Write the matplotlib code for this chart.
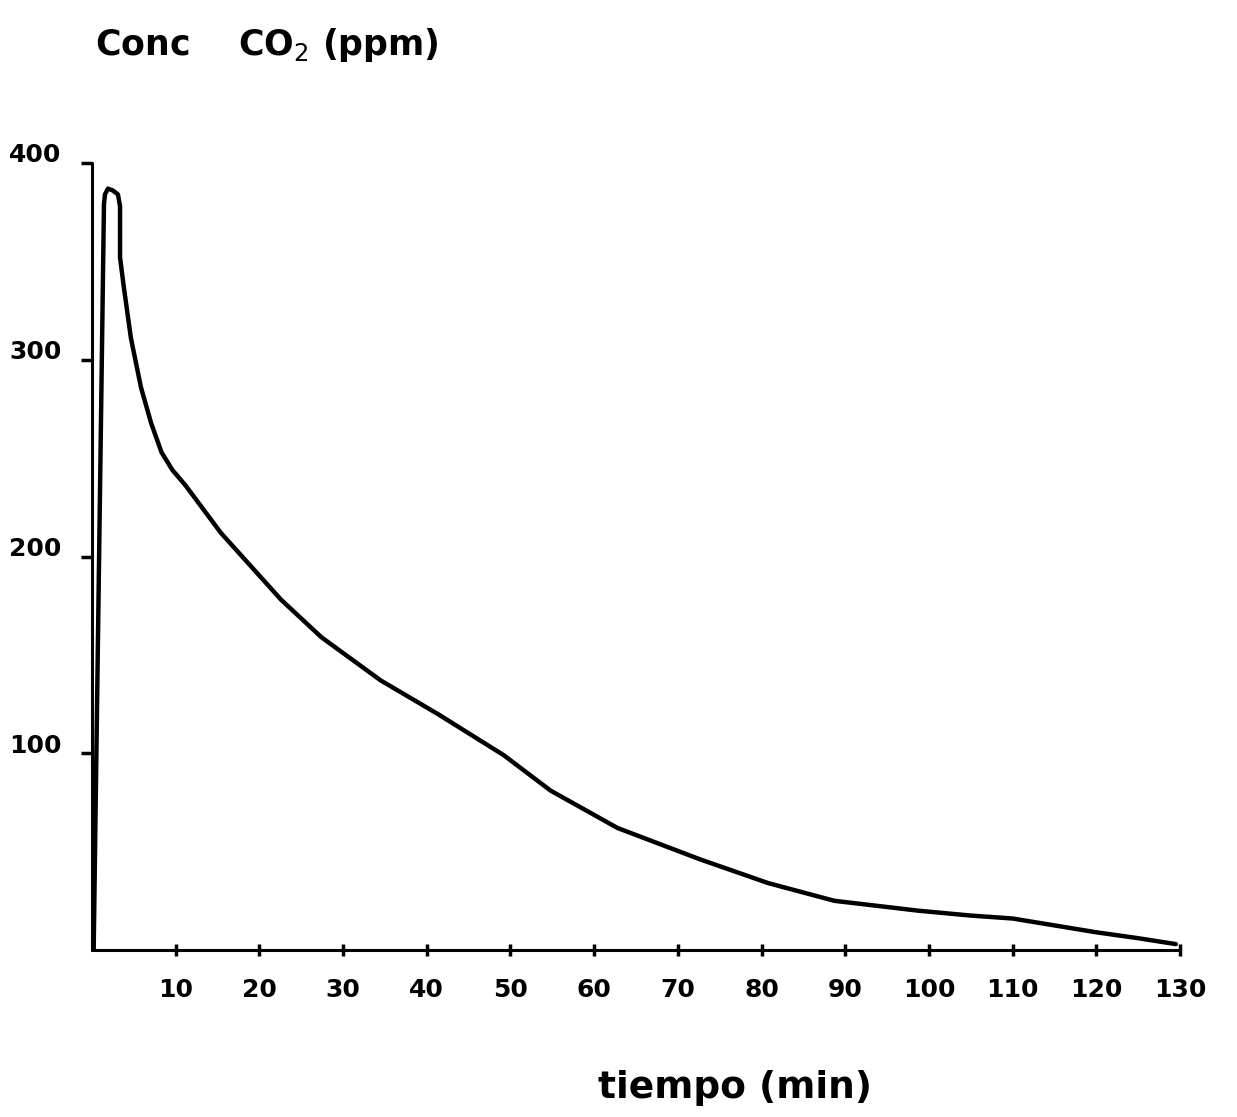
import matplotlib.pyplot as plt
import matplotlib.transforms as mtrans

# CO2 concentration
tiempo = [0.2, 1.43, 1.55, 1.9, 2.5, 3.1, 3.35, 3.35, 3.8, 4.65, 5.85,
          7.05, 8.3, 9.6, 11.2, 15.4, 22.6, 27.4, 34.5, 41.3, 49.2, 54.8, 62.8, 72.7, 80.8,
          88.7, 98.7, 105, 110, 115, 120, 125, 129.5]
conc = [0, 379, 384, 387, 386, 384, 378, 352, 337, 311, 286,
        268, 253, 244, 236, 212, 178, 159, 137, 120, 99, 81, 62, 46, 34,
        25, 20, 17.5, 16, 12.5, 9, 6, 3]

xticks = list(range(10, 140, 10))
yticks = [100, 200, 300, 400]

fig = plt.figure(figsize=(12.37, 11.17), dpi=100)
ax = fig.add_axes([92 / 1237, (1117 - 950) / 1117, (1180 - 92) / 1237, (950 - 163) / 1117])

ax.plot(tiempo, conc, color="black", lw=3.2, solid_capstyle="round", solid_joinstyle="round")

ax.set_xlim(0, 130)
ax.set_ylim(0, 400)
ax.set_xticks(xticks)
ax.set_yticks(yticks)
ax.set_xticklabels([str(t) for t in xticks], fontsize=18, fontweight="bold")
ax.set_yticklabels([str(t) for t in yticks], fontsize=18, fontweight="bold")

for s in ["top", "right"]:
    ax.spines[s].set_visible(False)
for s in ["left", "bottom"]:
    ax.spines[s].set_linewidth(2.2)
    ax.spines[s].set_capstyle("round")

ax.tick_params(axis="x", direction="inout", length=9, width=2.5, pad=16)
ax.tick_params(axis="y", direction="out", length=8, width=2.5, pad=14)

# hand labels sit a bit above their ticks
for lab in ax.get_yticklabels():
    lab.set_transform(lab.get_transform() + mtrans.ScaledTranslation(0, 0.1, fig.dpi_scale_trans))

fig.text(95 / 1237, 1 - 45 / 1117, "Conc    CO$_2$ (ppm)", fontsize=25, fontweight="bold",
         va="center", ha="left")
fig.text(735 / 1237, 1 - 1088 / 1117, "tiempo (min)", fontsize=27, fontweight="bold",
         va="center", ha="center")

fig.savefig("out.png", dpi=100, facecolor="white")
